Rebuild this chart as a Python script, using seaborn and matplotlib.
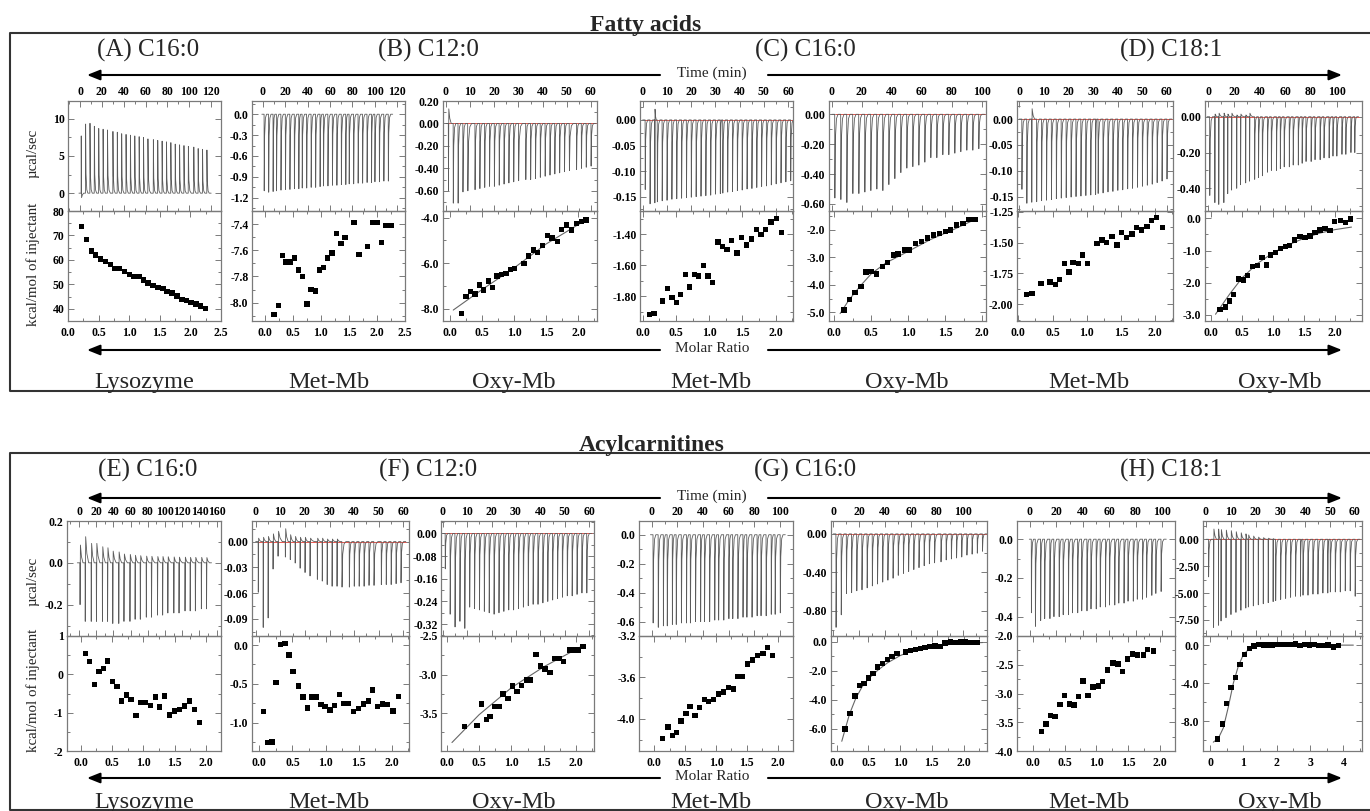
import numpy as np
import matplotlib
matplotlib.use("Agg")
import matplotlib.pyplot as plt
import seaborn as sns
from matplotlib.ticker import FixedLocator, AutoMinorLocator, FormatStrFormatter

W, H = 1370, 811

# ---------------- Fatty acids (top block) ----------------
# (A) C16:0 / Lysozyme
fa1_time = [1, 5, 9, 13, 17, 21, 25, 30, 34, 38, 42, 46, 50, 54, 58, 62, 67, 71, 75, 79, 83, 87, 91, 95, 99, 104, 108, 112, 116]
fa1_peak = [7.7, 9.3, 9.4, 9.0, 8.7, 8.6, 8.5, 8.3, 8.2, 8.0, 7.9, 7.8, 7.7, 7.6, 7.5, 7.3, 7.2, 7.1, 7.0, 6.9, 6.8, 6.6, 6.5, 6.4, 6.3, 6.2, 6.0, 5.9, 5.8]
fa1_kick = [-0.6]
fa1_ratio = [0.22, 0.30, 0.38, 0.45, 0.53, 0.61, 0.69, 0.77, 0.84, 0.92, 1.00, 1.08, 1.16, 1.23, 1.31, 1.39, 1.47, 1.55, 1.62, 1.70, 1.78, 1.86, 1.94, 2.01, 2.09, 2.17, 2.25]
fa1_dh = [73.6, 68.4, 63.7, 62.0, 60.3, 59.3, 58.2, 56.6, 56.6, 55.2, 54.1, 53.2, 53.2, 51.8, 50.6, 49.5, 48.7, 48.2, 47.1, 46.4, 45.3, 43.7, 43.3, 42.6, 41.9, 41.2, 40.1]

# (B) C12:0 / Met-Mb
fa2_time = [1, 5, 9, 12, 16, 20, 24, 28, 32, 35, 39, 43, 47, 51, 54, 58, 62, 66, 70, 74, 77, 81, 85, 89, 93, 97, 100, 104, 108, 112]
fa2_peak = [-1.10, -1.12, -1.11, -1.10, -1.09, -1.08, -1.08, -1.07, -1.07, -1.06, -1.06, -1.05, -1.05, -1.04, -1.03,
            -1.03, -1.02, -1.02, -1.01, -1.01, -1.00, -1.00, -0.99, -0.99, -0.98, -0.98, -0.97, -0.97, -0.96, -0.96]
fa2_ratio = [0.16, 0.24, 0.31, 0.37, 0.46, 0.53, 0.60, 0.67, 0.75, 0.82, 0.90, 0.97, 1.05, 1.12, 1.20, 1.28, 1.36, 1.43, 1.59, 1.68, 1.83, 1.92, 2.00, 2.08, 2.16, 2.25]
fa2_dh = [-8.09, -8.02, -7.64, -7.69, -7.69, -7.66, -7.75, -7.80, -8.01, -7.90, -7.91, -7.75, -7.73, -7.66, -7.62, -7.47,
          -7.55, -7.50, -7.39, -7.63, -7.57, -7.39, -7.39, -7.54, -7.41, -7.41]

# (B) C12:0 / Oxy-Mb
fa3_time = [1, 3, 5, 7, 9, 12, 14, 16, 18, 20, 22, 24, 26, 28, 30, 33, 35, 37, 39, 41, 43, 45, 47, 49, 51, 54, 56, 58, 60]
fa3_peak = [-0.60, -0.71, -0.71, -0.61, -0.60, -0.59, -0.58, -0.57, -0.56, -0.56, -0.55, -0.54, -0.53, -0.52, -0.51,
            -0.50, -0.50, -0.49, -0.48, -0.47, -0.46, -0.45, -0.44, -0.43, -0.42, -0.41, -0.40, -0.39, -0.38]
fa3_kick = [0.13]
fa3_ratio = [0.18, 0.25, 0.32, 0.39, 0.46, 0.52, 0.60, 0.66, 0.73, 0.80, 0.87, 0.94, 1.00, 1.15, 1.22, 1.30, 1.36, 1.44,
             1.52, 1.59, 1.67, 1.74, 1.81, 1.89, 1.97, 2.05, 2.12]
fa3_dh = [-8.19, -7.46, -7.25, -7.35, -6.95, -7.17, -6.78, -7.05, -6.56, -6.48, -6.46, -6.26, -6.22, -6.00, -5.68, -5.42,
          -5.54, -5.23, -4.79, -4.90, -5.05, -4.51, -4.32, -4.54, -4.25, -4.18, -4.10]
fa3_fit_x = [0.05, 0.5, 1.0, 1.5, 2.12]
fa3_fit_y = [-8.05, -7.15, -6.2, -5.15, -4.1]

# (C) C16:0 / Met-Mb
fa4_time = [1, 3, 5, 6, 8, 10, 12, 14, 16, 18, 20, 22, 24, 26, 28, 30, 32, 33, 35, 37, 39, 41, 43, 45, 47, 49, 51, 53, 55, 57, 59, 61]
fa4_peak = [-0.136, -0.164, -0.162, -0.160, -0.158, -0.157, -0.155, -0.154, -0.153, -0.152, -0.151, -0.150, -0.149, -0.148,
            -0.147, -0.145, -0.144, -0.143, -0.141, -0.140, -0.138, -0.137, -0.135, -0.134, -0.132, -0.130, -0.129, -0.127,
            -0.125, -0.123, -0.121, -0.119]
fa4_kick = [0, 0, 0.021]
fa4_ratio = [0.10, 0.17, 0.30, 0.37, 0.44, 0.51, 0.57, 0.64, 0.70, 0.78, 0.84, 0.91, 0.98, 1.05, 1.13, 1.20, 1.27, 1.34,
             1.42, 1.49, 1.56, 1.64, 1.71, 1.78, 1.85, 1.93, 2.01, 2.09]
fa4_dh = [-1.92, -1.91, -1.83, -1.75, -1.81, -1.84, -1.79, -1.66, -1.74, -1.66, -1.67, -1.60, -1.67, -1.71, -1.45, -1.48,
          -1.50, -1.44, -1.52, -1.42, -1.47, -1.43, -1.37, -1.40, -1.37, -1.32, -1.30, -1.39]

# (C) C16:0 / Oxy-Mb
fa5_time = [2, 6, 10, 14, 18, 22, 26, 30, 34, 38, 42, 46, 50, 54, 58, 62, 66, 70, 74, 78, 82, 86, 90, 94, 98]
fa5_peak = [-0.56, -0.57, -0.59, -0.53, -0.53, -0.52, -0.51, -0.50, -0.51, -0.47, -0.43, -0.39, -0.36, -0.35, -0.34,
            -0.32, -0.29, -0.29, -0.27, -0.27, -0.26, -0.25, -0.24, -0.24, -0.23]
fa5_ratio = [0.135, 0.21, 0.28, 0.36, 0.43, 0.50, 0.57, 0.65, 0.72, 0.80, 0.86, 0.95, 1.02, 1.10, 1.18, 1.26, 1.34, 1.42,
             1.50, 1.57, 1.65, 1.74, 1.82, 1.90]
fa5_dh = [-4.92, -4.53, -4.29, -4.07, -3.54, -3.52, -3.61, -3.34, -3.19, -2.91, -2.88, -2.73, -2.73, -2.49, -2.43, -2.30,
          -2.18, -2.12, -2.06, -2.00, -1.82, -1.76, -1.61, -1.61]
fa5_fit_x = [0.08, 0.2, 0.35, 0.5, 0.7, 1.0, 1.3, 1.6, 1.9]
fa5_fit_y = [-5.05, -4.55, -4.05, -3.6, -3.2, -2.78, -2.35, -2.0, -1.62]

# (D) C18:1 / Met-Mb
fa6_time = [1, 3, 5, 7, 9, 11, 13, 15, 17, 19, 21, 23, 25, 27, 29, 31, 32, 34, 36, 38, 40, 42, 44, 46, 48, 50, 52, 54, 56, 58, 60]
fa6_peak = [-0.136, -0.163, -0.161, -0.160, -0.158, -0.157, -0.156, -0.154, -0.153, -0.152, -0.151, -0.150, -0.149, -0.148,
            -0.147, -0.146, -0.144, -0.143, -0.141, -0.140, -0.138, -0.137, -0.135, -0.134, -0.132, -0.130, -0.128, -0.126,
            -0.123, -0.120, -0.116]
fa6_kick = [0, 0, 0.02]
fa6_ratio = [0.12, 0.20, 0.33, 0.46, 0.54, 0.60, 0.67, 0.74, 0.80, 0.88, 0.94, 1.01, 1.15, 1.22, 1.29, 1.37, 1.44, 1.51,
             1.58, 1.66, 1.73, 1.80, 1.88, 1.95, 2.02, 2.11]
fa6_dh = [-1.92, -1.91, -1.83, -1.82, -1.84, -1.80, -1.67, -1.74, -1.66, -1.67, -1.60, -1.67, -1.51, -1.48, -1.50, -1.45,
          -1.52, -1.42, -1.46, -1.43, -1.38, -1.40, -1.37, -1.32, -1.30, -1.38]

# (D) C18:1 / Oxy-Mb
fa7_time = [1, 5, 8, 12, 15, 18, 22, 25, 29, 32, 36, 39, 42, 46, 49, 53, 56, 59, 63, 66, 70, 73, 76, 80, 83, 87, 90, 94, 97, 100, 104, 107, 111, 114]
fa7_peak = [-0.44, -0.48, -0.49, -0.48, -0.43, -0.41, -0.40, -0.38, -0.37, -0.36, -0.35, -0.34, -0.33, -0.31, -0.30, -0.30,
            -0.29, -0.28, -0.28, -0.27, -0.27, -0.26, -0.25, -0.25, -0.24, -0.24, -0.23, -0.23, -0.22, -0.22, -0.21, -0.21,
            -0.20, -0.20]
fa7_kick = [0, 0.015, 0.02, 0.02, 0.015, 0.02, 0.01, 0.015, 0.01, 0.02]
fa7_ratio = [0.145, 0.23, 0.30, 0.36, 0.44, 0.52, 0.59, 0.67, 0.75, 0.82, 0.89, 0.96, 1.04, 1.12, 1.20, 1.27, 1.35, 1.44,
             1.52, 1.60, 1.68, 1.76, 1.84, 1.92, 2.00, 2.09, 2.17, 2.25]
fa7_dh = [-2.83, -2.76, -2.57, -2.36, -1.89, -1.92, -1.78, -1.50, -1.47, -1.21, -1.45, -1.14, -1.06, -0.93, -0.88, -0.85,
          -0.67, -0.57, -0.59, -0.55, -0.44, -0.36, -0.31, -0.38, -0.10, -0.07, -0.12, -0.02]
fa7_fit_x = [0.07, 0.3, 0.5, 0.75, 1.0, 1.25, 1.5, 1.75, 2.0, 2.27]
fa7_fit_y = [-2.98, -2.35, -1.85, -1.4, -1.07, -0.82, -0.62, -0.46, -0.35, -0.27]

# ---------------- Acylcarnitines (bottom block) ----------------
# (E) C16:0 / Lysozyme
ac1_time = [1, 7, 14, 20, 27, 33, 39, 46, 52, 59, 65, 71, 78, 84, 91, 97, 103, 110, 116, 123, 129, 135, 142, 148]
ac1_peak = [-0.20, -0.28, -0.28, -0.28, -0.28, -0.28, -0.29, -0.29, -0.28, -0.28, -0.27, -0.27, -0.26, -0.26, -0.25,
            -0.25, -0.24, -0.24, -0.24, -0.23, -0.23, -0.23, -0.22, -0.22]
ac1_kick = [0.085, 0.125, 0.093, 0.093, 0.077, 0.072, 0.056, 0.052, 0.042, 0.040, 0.036, 0.034, 0.032, 0.031, 0.030,
            0.030, 0.029, 0.028, 0.027, 0.027, 0.026, 0.026, 0.026, 0.025]
ac1_ratio = [0.08, 0.14, 0.22, 0.29, 0.36, 0.43, 0.51, 0.58, 0.65, 0.73, 0.80, 0.88, 0.96, 1.03, 1.11, 1.19, 1.26, 1.34,
             1.42, 1.50, 1.58, 1.66, 1.74, 1.82, 1.90]
ac1_dh = [0.55, 0.33, -0.26, 0.07, 0.16, 0.35, -0.19, -0.32, -0.70, -0.54, -0.65, -1.07, -0.74, -0.74, -0.81, -0.59,
          -0.85, -0.57, -1.06, -0.96, -0.91, -0.83, -0.70, -0.91, -1.26]

# (F) C12:0 / Met-Mb
ac2_time = [1, 3, 5, 7, 9, 12, 14, 16, 18, 20, 22, 25, 27, 29, 31, 33, 35, 38, 40, 42, 44, 46, 48, 51, 53, 55, 57, 59]
ac2_peak = [-0.059, -0.100, -0.089, -0.032, -0.017, -0.018, -0.021, -0.025, -0.031, -0.036, -0.040, -0.044, -0.046,
            -0.050, -0.052, -0.052, -0.053, -0.053, -0.052, -0.052, -0.052, -0.051, -0.051, -0.050, -0.050, -0.050,
            -0.049, -0.048]
ac2_kick = [0.004, 0.005, 0.006, 0.009, 0.012, 0.015, 0.008, 0.006, 0.005, 0.005, 0.004, 0.004, 0.004, 0.003, 0.003, 0.003]
ac2_ratio = [0.06, 0.12, 0.19, 0.25, 0.32, 0.39, 0.45, 0.51, 0.59, 0.66, 0.73, 0.79, 0.86, 0.93, 0.99, 1.07, 1.14, 1.21,
             1.28, 1.34, 1.42, 1.50, 1.57, 1.65, 1.71, 1.78, 1.86, 1.93, 2.02, 2.10]
ac2_dh = [-0.86, -1.26, -1.25, -0.48, 0.01, 0.02, -0.13, -0.34, -0.53, -0.67, -0.81, -0.67, -0.67, -0.77, -0.79, -0.84,
          -0.78, -0.64, -0.75, -0.75, -0.86, -0.82, -0.76, -0.72, -0.58, -0.79, -0.76, -0.77, -0.85, -0.66]

# (F) C12:0 / Oxy-Mb
ac3_time = [1, 3, 5, 7, 9, 11, 13, 15, 17, 19, 21, 23, 25, 27, 29, 31, 33, 35, 37, 39, 41, 43, 45, 47, 49, 51, 53, 55, 57, 59]
ac3_peak = [-0.125, -0.285, -0.33, -0.31, -0.335, -0.26, -0.265, -0.27, -0.275, -0.28, -0.285, -0.28, -0.275, -0.27,
            -0.27, -0.265, -0.26, -0.255, -0.25, -0.25, -0.245, -0.24, -0.235, -0.23, -0.225, -0.22, -0.22, -0.215,
            -0.21, -0.21]
ac3_ratio = [0.27, 0.47, 0.54, 0.61, 0.67, 0.74, 0.81, 0.87, 0.95, 1.02, 1.09, 1.16, 1.24, 1.30, 1.38, 1.45, 1.52, 1.60,
             1.67, 1.74, 1.81, 1.90, 1.97, 2.04, 2.11]
ac3_dh = [-3.67, -3.66, -3.38, -3.58, -3.54, -3.41, -3.41, -3.25, -3.31, -3.15, -3.22, -3.14, -3.07, -3.07, -2.74, -2.89,
          -2.93, -2.97, -2.79, -2.79, -2.83, -2.68, -2.68, -2.68, -2.64]
ac3_fit_x = [0.08, 0.5, 1.0, 1.5, 2.12]
ac3_fit_y = [-3.88, -3.52, -3.17, -2.9, -2.62]

# (G) C16:0 / Met-Mb
ac4_time = [1, 5, 9, 12, 16, 19, 23, 27, 30, 34, 38, 41, 45, 49, 52, 56, 60, 63, 67, 71, 74, 78, 82, 85, 89, 93, 96, 100]
ac4_peak = [-0.61, -0.64, -0.63, -0.63, -0.62, -0.62, -0.61, -0.61, -0.61, -0.60, -0.60, -0.60, -0.60, -0.59, -0.59,
            -0.59, -0.58, -0.58, -0.58, -0.57, -0.57, -0.57, -0.56, -0.56, -0.56, -0.55, -0.55, -0.54]
ac4_ratio = [0.135, 0.22, 0.29, 0.36, 0.43, 0.51, 0.58, 0.66, 0.73, 0.81, 0.88, 0.96, 1.04, 1.12, 1.20, 1.28, 1.35, 1.43,
             1.51, 1.59, 1.67, 1.76, 1.84, 1.92]
ac4_dh = [-4.19, -4.08, -4.16, -4.13, -4.02, -3.95, -3.88, -3.97, -3.89, -3.81, -3.83, -3.81, -3.76, -3.74, -3.70, -3.71,
          -3.59, -3.59, -3.47, -3.43, -3.39, -3.37, -3.31, -3.39]

# (G) C16:0 / Oxy-Mb
ac5_time = [2, 6, 10, 14, 18, 22, 26, 30, 34, 38, 42, 46, 50, 54, 58, 62, 66, 70, 74, 78, 83, 87, 91, 95, 99, 103, 107, 111, 115]
ac5_peak = [-0.97, -0.84, -0.62, -0.61, -0.59, -0.58, -0.56, -0.54, -0.52, -0.50, -0.48, -0.46, -0.43, -0.41, -0.39,
            -0.37, -0.35, -0.33, -0.31, -0.30, -0.29, -0.27, -0.26, -0.25, -0.24, -0.22, -0.21, -0.20, -0.18]
ac5_ratio = [0.13, 0.21, 0.29, 0.36, 0.43, 0.50, 0.57, 0.64, 0.72, 0.80, 0.87, 0.95, 1.08, 1.16, 1.24, 1.32, 1.39, 1.47,
             1.55, 1.63, 1.71, 1.79, 1.87, 1.95, 2.03, 2.12, 2.21]
ac5_dh = [-6.0, -4.95, -3.74, -3.03, -2.85, -2.50, -2.19, -1.73, -1.49, -1.21, -1.02, -0.79, -0.70, -0.60, -0.51, -0.46,
          -0.40, -0.33, -0.28, -0.31, -0.08, -0.02, -0.06, -0.01, -0.01, -0.05, -0.05]
ac5_fit_x = [0.08, 0.2, 0.3, 0.4, 0.5, 0.65, 0.8, 1.0, 1.2, 1.6, 2.0, 2.3]
ac5_fit_y = [-6.85, -5.0, -3.9, -3.1, -2.55, -1.95, -1.45, -0.95, -0.6, -0.25, -0.1, -0.05]

# (H) C18:1 / Met-Mb
ac6_time = [1, 4, 8, 11, 15, 18, 22, 25, 29, 32, 36, 39, 43, 46, 50, 53, 57, 60, 64, 67, 71, 74, 78, 81, 85, 88, 92, 95, 99]
ac6_peak = [-0.38, -0.45, -0.42, -0.41, -0.41, -0.40, -0.40, -0.39, -0.39, -0.38, -0.38, -0.37, -0.37, -0.36, -0.36,
            -0.35, -0.35, -0.34, -0.34, -0.33, -0.33, -0.32, -0.32, -0.31, -0.31, -0.30, -0.29, -0.28, -0.27]
ac6_ratio = [0.14, 0.21, 0.28, 0.35, 0.43, 0.50, 0.58, 0.65, 0.72, 0.79, 0.87, 0.95, 1.03, 1.10, 1.18, 1.26, 1.34, 1.41,
             1.49, 1.57, 1.65, 1.74, 1.81, 1.90]
ac6_dh = [-3.66, -3.53, -3.38, -3.40, -3.19, -3.03, -3.18, -3.20, -3.05, -2.78, -3.03, -2.89, -2.87, -2.79, -2.59, -2.47,
          -2.49, -2.62, -2.40, -2.31, -2.33, -2.33, -2.24, -2.26]

# (H) C18:1 / Oxy-Mb
ac7_time = [1, 3, 5, 6, 8, 10, 12, 14, 16, 17, 19, 21, 23, 25, 27, 28, 30, 32, 34, 36, 38, 39, 41, 43, 45, 47, 49, 50, 52, 54, 56, 58, 60]
ac7_peak = [-3.5, -8.2, -8.0, -7.6, -7.3, -7.0, -6.8, -6.6, -6.4, -6.3, -6.2, -6.1, -6.0, -5.9, -5.8, -5.7, -5.6, -5.5,
            -5.4, -5.3, -5.3, -5.2, -5.2, -5.1, -5.1, -5.0, -5.0, -4.9, -4.9, -4.9, -4.8, -4.8, -5.3]
ac7_kick = [0.0, 0.95, 0.95, 0.9, 0.85, 0.8, 0.7, 0.6, 0.5, 0.4, 0.3, 0.2, 0.15, 0.1, 0.05]
ac7_ratio = [0.23, 0.37, 0.50, 0.63, 0.77, 0.90, 1.04, 1.18, 1.32, 1.45, 1.60, 1.73, 1.87, 2.00, 2.15, 2.28, 2.42, 2.57,
             2.70, 2.84, 2.98, 3.13, 3.27, 3.40, 3.54, 3.70, 3.85]
ac7_dh = [-9.85, -8.29, -6.16, -4.45, -3.38, -2.03, -0.96, -0.36, -0.11, 0.07, 0.0, 0.0, 0.0, 0.05, 0.05, 0.05, 0.05,
          0.1, -0.07, 0.05, 0.0, 0.05, -0.07, -0.07, 0.0, -0.18, -0.05]
ac7_fit_x = [0.1, 0.25, 0.4, 0.55, 0.7, 0.85, 1.0, 1.2, 1.5, 2.0, 4.3]
ac7_fit_y = [-10.2, -9.8, -8.7, -6.5, -4.0, -2.2, -1.0, -0.3, -0.05, 0.0, 0.0]

proteins = ["Lysozyme", "Met-Mb", "Oxy-Mb", "Met-Mb", "Oxy-Mb", "Met-Mb", "Oxy-Mb"]
fa_labels = ["(A) C16:0", "(B) C12:0", "(C) C16:0", "(D) C18:1"]
ac_labels = ["(E) C16:0", "(F) C12:0", "(G) C16:0", "(H) C18:1"]

T60, T100, T120, T160 = list(range(0, 61, 10)), list(range(0, 101, 20)), list(range(0, 121, 20)), list(range(0, 161, 20))
R20, R25 = [0, 0.5, 1.0, 1.5, 2.0], [0, 0.5, 1.0, 1.5, 2.0, 2.5]

# panel settings: thermogram, isotherm, fit, red baseline, (xt, xfmt, xlim, yt, yfmt, ylim) top/bottom
fa_panels = [
    dict(th=(fa1_time, fa1_peak, fa1_kick), iso=(fa1_ratio, fa1_dh), fit=None, red=False,
         top=(T120, "%d", (-11, 129), [0, 5, 10], "%d", (-2.4, 12.4)),
         bot=(R25, "%.1f", (0, 2.5), [40, 50, 60, 70, 80], "%d", (35, 80))),
    dict(th=(fa2_time, fa2_peak, []), iso=(fa2_ratio, fa2_dh), fit=None, red=False,
         top=(T120, "%d", (-9.8, 127), [-1.2, -0.9, -0.6, -0.3, 0.0], "%.1f", (-1.39, 0.19)),
         bot=(R25, "%.1f", (-0.23, 2.5), [-8.0, -7.8, -7.6, -7.4], "%.1f", (-8.14, -7.30))),
    dict(th=(fa3_time, fa3_peak, fa3_kick), iso=(fa3_ratio, fa3_dh), fit=(fa3_fit_x, fa3_fit_y), red=True,
         top=(T60, "%d", (-1.2, 62.5), [-0.6, -0.4, -0.2, 0.0, 0.2], "%.2f", (-0.78, 0.2)),
         bot=(R20, "%.1f", (-0.11, 2.29), [-8.0, -6.0, -4.0], "%.1f", (-8.53, -3.71))),
    dict(th=(fa4_time, fa4_peak, fa4_kick), iso=(fa4_ratio, fa4_dh), fit=None, red=True,
         top=(T60, "%d", (-1.1, 62), [-0.15, -0.10, -0.05, 0.0], "%.2f", (-0.178, 0.037)),
         bot=(R20, "%.1f", (-0.04, 2.26), [-1.8, -1.6, -1.4], "%.2f", (-1.96, -1.25))),
    dict(th=(fa5_time, fa5_peak, []), iso=(fa5_ratio, fa5_dh), fit=(fa5_fit_x, fa5_fit_y), red=True,
         top=(T100, "%d", (-1.8, 102.9), [-0.6, -0.4, -0.2, 0.0], "%.2f", (-0.647, 0.089)),
         bot=(R20, "%.1f", (-0.07, 2.05), [-5.0, -4.0, -3.0, -2.0], "%.1f", (-5.32, -1.31))),
    dict(th=(fa6_time, fa6_peak, fa6_kick), iso=(fa6_ratio, fa6_dh), fit=None, red=True,
         top=(T60, "%d", (-0.95, 62.5), [-0.15, -0.10, -0.05, 0.0], "%.2f", (-0.178, 0.035)),
         bot=(R20, "%.1f", (-0.02, 2.26), [-2.0, -1.75, -1.5, -1.25], "%.2f", (-2.135, -1.245))),
    dict(th=(fa7_time, fa7_peak, fa7_kick), iso=(fa7_ratio, fa7_dh), fit=(fa7_fit_x, fa7_fit_y), red=True,
         top=(T100, "%d", (-2.6, 119.7), [-0.4, -0.2, 0.0], "%.2f", (-0.527, 0.088)),
         bot=(R20, "%.1f", (-0.1, 2.44), [-3.0, -2.0, -1.0, 0.0], "%.1f", (-3.19, 0.23))),
]
ac_panels = [
    dict(th=(ac1_time, ac1_peak, ac1_kick), iso=(ac1_ratio, ac1_dh), fit=None, red=False,
         top=(T160, "%d", (-14, 165), [-0.2, 0.0, 0.2], "%.1f", (-0.35, 0.2)),
         bot=(R20, "%.1f", (-0.22, 2.24), [-2, -1, 0, 1], "%d", (-2.0, 1.0))),
    dict(th=(ac2_time, ac2_peak, ac2_kick), iso=(ac2_ratio, ac2_dh), fit=None, red=True,
         top=(T60, "%d", (-1.5, 62.3), [-0.09, -0.06, -0.03, 0.0], "%.2f", (-0.110, 0.024)),
         bot=(R20, "%.1f", (-0.11, 2.26), [-1.0, -0.5, 0.0], "%.1f", (-1.366, 0.116))),
    dict(th=(ac3_time, ac3_peak, []), iso=(ac3_ratio, ac3_dh), fit=(ac3_fit_x, ac3_fit_y), red=True,
         top=(T60, "%d", (-0.7, 62), [-0.32, -0.24, -0.16, -0.08, 0.0], "%.2f", (-0.362, 0.044)),
         bot=(R20, "%.1f", (-0.09, 2.28), [-3.5, -3.0, -2.5], "%.1f", (-3.99, -2.5))),
    dict(th=(ac4_time, ac4_peak, []), iso=(ac4_ratio, ac4_dh), fit=None, red=False,
         top=(T100, "%d", (-9.9, 110), [-0.6, -0.4, -0.2, 0.0], "%.1f", (-0.70, 0.095)),
         bot=(R20, "%.1f", (-0.25, 2.25), [-4.0, -3.6, -3.2], "%.1f", (-4.31, -3.2))),
    dict(th=(ac5_time, ac5_peak, []), iso=(ac5_ratio, ac5_dh), fit=(ac5_fit_x, ac5_fit_y), red=True,
         top=(T100, "%d", (-1.8, 118.6), [-0.8, -0.4, 0.0], "%.2f", (-1.06, 0.134)),
         bot=(R20, "%.1f", (-0.09, 2.37), [-6.0, -4.0, -2.0, 0.0], "%.1f", (-7.52, 0.40))),
    dict(th=(ac6_time, ac6_peak, []), iso=(ac6_ratio, ac6_dh), fit=None, red=False,
         top=(T100, "%d", (-9.8, 109.6), [-0.4, -0.2, 0.0], "%.1f", (-0.5, 0.094)),
         bot=(R20, "%.1f", (-0.25, 2.24), [-4.0, -3.5, -3.0, -2.5, -2.0], "%.1f", (-4.0, -2.0))),
    dict(th=(ac7_time, ac7_peak, ac7_kick), iso=(ac7_ratio, ac7_dh), fit=(ac7_fit_x, ac7_fit_y), red=True,
         top=(T60, "%d", (-1.2, 62.8), [-7.5, -5.0, -2.5, 0.0], "%.2f", (-9.0, 1.7)),
         bot=([0, 1, 2, 3, 4], "%d", (-0.21, 4.56), [-8.0, -4.0, 0.0], "%.1f", (-11.13, 0.96))),
]

# layout in pixels
fa_cols = [(68, 221), (252, 405), (443, 597), (640, 793), (829, 986), (1017, 1173), (1205, 1362)]
ac_cols = [(67, 221), (252, 409), (441, 594), (639, 793), (831, 987), (1017, 1175), (1203, 1362)]
fa_rows = (101, 211, 321)
ac_rows = (521, 636, 751)

FRAME = "#7a7a7a"
TRACE = "#5c5c5c"


def thermogram(times, peaks, kicks):
    """Polyline of the raw ITC trace: one sharp spike per injection."""
    times = np.asarray(times, float)
    gaps = np.append(np.diff(times), np.diff(times)[-1])
    xs, ys = [times[0] - 0.5 * gaps[0]], [0.0]
    for i, (t, p, dt) in enumerate(zip(times, peaks, gaps)):
        r = kicks[i] if i < len(kicks) else 0.0
        if r:
            fx, fy = [0, 0.03, 0.1, 0.3, 0.6], [0, p, r, 0.35 * r, 0]
        else:
            fx, fy = [0, 0.03, 0.12, 0.3, 0.55], [0, p, 0.28 * p, 0.05 * p, 0]
        xs += [t + f * dt for f in fx]
        ys += fy
    xs.append(times[-1] + gaps[-1])
    ys.append(0.0)
    return np.array(xs), np.array(ys), times[0], times[-1] + gaps[-1]


def px_rect(l, t, r, b):
    return [l / W, 1 - b / H, (r - l) / W, (b - t) / H]


def style(ax, spec, top):
    xt, xfmt, xlim, yt, yfmt, ylim = spec
    ax.set_xlim(xlim)
    ax.set_ylim(ylim)
    ax.xaxis.set_major_locator(FixedLocator(xt))
    ax.xaxis.set_major_formatter(FormatStrFormatter(xfmt))
    ax.yaxis.set_major_locator(FixedLocator(yt))
    ax.yaxis.set_major_formatter(FormatStrFormatter(yfmt))
    ax.xaxis.set_minor_locator(AutoMinorLocator(2))
    ax.yaxis.set_minor_locator(AutoMinorLocator(2))
    ax.tick_params(which="both", direction="in", top=True, bottom=True, left=True, right=True,
                   color=FRAME, width=0.7, labelsize=8.5, labelcolor="black")
    ax.tick_params(which="major", length=4)
    ax.tick_params(which="minor", length=2)
    ax.tick_params(axis="x", labeltop=top, labelbottom=not top, pad=2.5 if top else 4)
    ax.tick_params(axis="y", pad=2.5)
    ax.set_xlabel("")
    ax.set_ylabel("")
    for axis in (ax.xaxis, ax.yaxis):
        for tk in axis.get_major_ticks():
            tk.label1.set_fontweight("bold")
            tk.label2.set_fontweight("bold")
    for s in ax.spines.values():
        s.set_color(FRAME)
        s.set_linewidth(0.9)
    ax.set_facecolor("none")


sns.set_theme(style="white")
plt.rcParams["font.family"] = ["Liberation Serif", "DejaVu Serif"]
plt.rcParams["font.weight"] = "bold"
plt.rcParams["axes.unicode_minus"] = False

fig = plt.figure(figsize=(W / 100, H / 100), dpi=100)
deco = fig.add_axes([0, 0, 1, 1])
deco.set_xlim(0, W)
deco.set_ylim(H, 0)
deco.axis("off")


def draw_block(panels, cols, rows):
    for p, (l, r) in zip(panels, cols):
        ax_t = fig.add_axes(px_rect(l, rows[0], r, rows[1]))
        ax_b = fig.add_axes(px_rect(l, rows[1], r, rows[2]))
        xs, ys, x0, x1 = thermogram(*p["th"])
        if p["red"]:
            ax_t.hlines(0, x0, x1, color="#e8574f", lw=0.7, zorder=1)
        sns.lineplot(x=xs, y=ys, ax=ax_t, sort=False, estimator=None, color=TRACE, lw=0.6, zorder=2)
        sns.scatterplot(x=p["iso"][0], y=p["iso"][1], ax=ax_b, marker="s", s=15,
                        color="black", edgecolor="none", zorder=3)
        if p["fit"] is not None:
            sns.lineplot(x=p["fit"][0], y=p["fit"][1], ax=ax_b, sort=False, estimator=None,
                         color="#666666", lw=0.8)
        style(ax_t, p["top"], True)
        style(ax_b, p["bot"], False)


draw_block(fa_panels, fa_cols, fa_rows)
draw_block(ac_panels, ac_cols, ac_rows)

# block frames, titles, arrows and labels
ARW = "-|>,head_length=0.55,head_width=0.22"
label_x = [148, 428, 805, 1171]
protein_x = [144, 329, 514, 711, 907, 1089, 1280]
blocks = [
    dict(title="Fatty acids", tx=646, frame=(33, 391), title_y=30.5, lab_y=57, time_y=75, mol_y=350, prot_y=388,
         labels=fa_labels, mu_y=153, kcal_y=264),
    dict(title="Acylcarnitines", tx=652, frame=(453, 810), title_y=451, lab_y=477, time_y=498, mol_y=778, prot_y=808,
         labels=ac_labels, mu_y=581, kcal_y=690),
]
for b in blocks:
    top, bottom = b["frame"]
    deco.plot([W + 5, 10, 10, W + 5], [top, top, bottom, bottom], color="#333333", lw=1.5)
    deco.text(b["tx"], b["title_y"], b["title"], ha="center", va="baseline", fontsize=17, fontweight="bold")
    for txt, x in zip(b["labels"], label_x):
        deco.text(x, b["lab_y"], txt, ha="center", va="baseline", fontsize=18, fontweight="normal")
    for txt, x in zip(proteins, protein_x):
        deco.text(x, b["prot_y"], txt, ha="center", va="baseline", fontsize=17.5, fontweight="normal")
    for y, name in [(b["time_y"], "Time (min)"), (b["mol_y"], "Molar Ratio")]:
        deco.annotate("", xy=(87, y), xytext=(660, y),
                      arrowprops=dict(arrowstyle=ARW, color="black", lw=1.5, mutation_scale=14, shrinkA=0, shrinkB=0))
        deco.annotate("", xy=(1342, y), xytext=(768, y),
                      arrowprops=dict(arrowstyle=ARW, color="black", lw=1.5, mutation_scale=14, shrinkA=0, shrinkB=0))
        deco.text(712, y - 2, name, ha="center", va="center", fontsize=11, fontweight="normal")
    deco.text(33, b["mu_y"], "µcal/sec", rotation=90, ha="center", va="center", fontsize=10.7, fontweight="normal")
    deco.text(33, b["kcal_y"], "kcal/mol of injectant", rotation=90, ha="center", va="center",
              fontsize=10.7, fontweight="normal")

fig.savefig("out.png", dpi=100)
